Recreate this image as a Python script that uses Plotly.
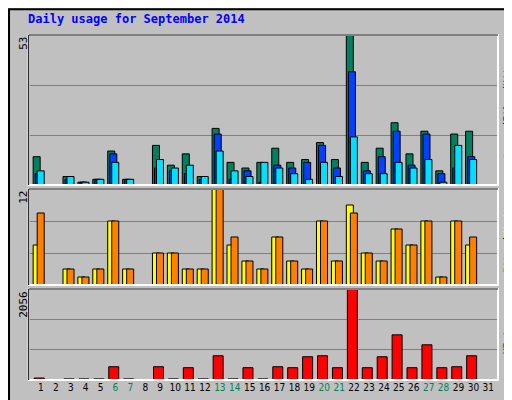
import plotly.graph_objects as go

days = list(range(1, 32))
hits = [10, 0, 3, 1, 2, 12, 2, 0, 14, 7, 11, 3, 20, 8, 6, 8, 13, 8, 9, 15, 9, 53, 8, 13, 22, 11, 19, 5, 18, 19, 0]
files = [4, 0, 2, 1, 2, 11, 2, 0, 6, 5, 4, 2, 18, 2, 5, 1, 7, 6, 8, 14, 6, 40, 5, 10, 19, 7, 18, 4, 6, 10, 0]
pages = [5, 0, 3, 1, 2, 8, 2, 0, 9, 6, 7, 3, 12, 5, 3, 8, 6, 4, 2, 8, 3, 17, 4, 4, 8, 6, 9, 1, 14, 9, 0]
visits = [5, 0, 2, 1, 2, 8, 2, 0, 4, 4, 2, 2, 12, 5, 3, 2, 6, 3, 2, 8, 3, 10, 4, 3, 7, 5, 8, 1, 8, 5, 0]
sites = [9, 0, 2, 1, 2, 8, 2, 0, 4, 4, 2, 2, 12, 6, 3, 2, 6, 3, 2, 8, 3, 9, 4, 3, 7, 5, 8, 1, 8, 6, 0]
kbytes = [45, 0, 25, 25, 25, 300, 25, 0, 300, 25, 278, 25, 548, 25, 278, 25, 300, 278, 525, 548, 278, 2056,
          278, 525, 1020, 278, 795, 278, 300, 548, 0]
weekend = [6, 7, 13, 14, 20, 21, 27, 28]
max_hits, max_visits, max_kb = 53, 12, 2056

fig = go.Figure()

def bars(y, color, offset, width, yaxis):
    fig.add_trace(go.Bar(x=days, y=y, marker=dict(color=color, line=dict(color="black", width=1)),
                         offset=offset, width=width, yaxis=yaxis, xaxis="x"))

bars(hits, "#00805c", -0.52, 0.47, "y")
bars(files, "#0040ff", -0.38, 0.47, "y")
bars(pages, "#00e0ff", -0.25, 0.47, "y")
bars(visits, "#ffff00", -0.52, 0.47, "y2")
bars(sites, "#ff8000", -0.25, 0.47, "y2")
bars(kbytes, "#ff0000", -0.45, 0.67, "y3")

ticktext = [f'<span style="color:#00805c">{d}</span>' if d in weekend else str(d) for d in days]

def yax(mx, dom):
    return dict(domain=dom, range=[0, mx], tickvals=[mx / 3, 2 * mx / 3], showticklabels=False,
                gridcolor="#808080", gridwidth=1, zeroline=False, ticks="", fixedrange=True)

fig.update_layout(
    width=512, height=400, margin=dict(l=0, r=0, t=0, b=0),
    paper_bgcolor="#c0c0c0", plot_bgcolor="#c0c0c0",
    barmode="overlay", showlegend=False,
    font=dict(family="DejaVu Sans Mono", size=10, color="black"),
    xaxis=dict(domain=[0.0404, 0.957], range=[0.18, 31.65], tickvals=days, ticktext=ticktext,
               tickangle=0, showgrid=False, zeroline=False, ticks="", anchor="y3",
               tickfont=dict(size=10, family="DejaVu Sans Condensed")),
    yaxis=yax(max_hits, [0.5575, 0.9325]),
    yaxis2=yax(max_visits, [0.3075, 0.5475]),
    yaxis3=yax(max_kb, [0.07, 0.2975]),
)

# panel bevels
for y0, y1 in [(0.5575, 0.9325), (0.3075, 0.5475), (0.07, 0.2975)]:
    fig.add_shape(type="rect", xref="paper", yref="paper", x0=0.0404, x1=0.957, y0=y0, y1=y1,
                  line=dict(color="white", width=2))
    fig.add_shape(type="line", xref="paper", yref="paper", x0=0.0404, x1=0.957, y0=y1, y1=y1,
                  line=dict(color="black", width=1))
    fig.add_shape(type="line", xref="paper", yref="paper", x0=0.0404, x1=0.0404, y0=y0, y1=y1,
                  line=dict(color="black", width=1))
fig.add_shape(type="rect", xref="paper", yref="paper", x0=0.002, x1=0.998, y0=0.003, y1=0.997,
              line=dict(color="black", width=2))

fig.add_annotation(text="<b>Daily usage for September 2014</b>", xref="paper", yref="paper",
                   x=0.035, y=0.995, xanchor="left", yanchor="top", showarrow=False,
                   font=dict(color="#0000ff", size=12))
for txt, y in [(str(max_hits), 0.9325), (str(max_visits), 0.5475), (str(max_kb), 0.2975)]:
    fig.add_annotation(text=txt, xref="paper", yref="paper", x=0.03, y=y, xanchor="center",
                       yanchor="top", textangle=-90, showarrow=False, font=dict(size=11))

labels = [
    ('<span style="color:#00e0ff">Pages</span>/<span style="color:#0040ff">Files</span>/'
     '<span style="color:#00805c">Hits</span>', 0.745),
    ('<span style="color:#ff8000">Sites</span>/<span style="color:#ffff00">Visits</span>', 0.4275),
    ('<span style="color:#ff0000">KBytes</span>', 0.18),
]
for txt, y in labels:
    fig.add_annotation(text=txt, xref="paper", yref="paper", x=0.975, y=y, xanchor="center",
                       yanchor="middle", textangle=-90, showarrow=False, font=dict(size=10))

fig.write_html("out.html")
